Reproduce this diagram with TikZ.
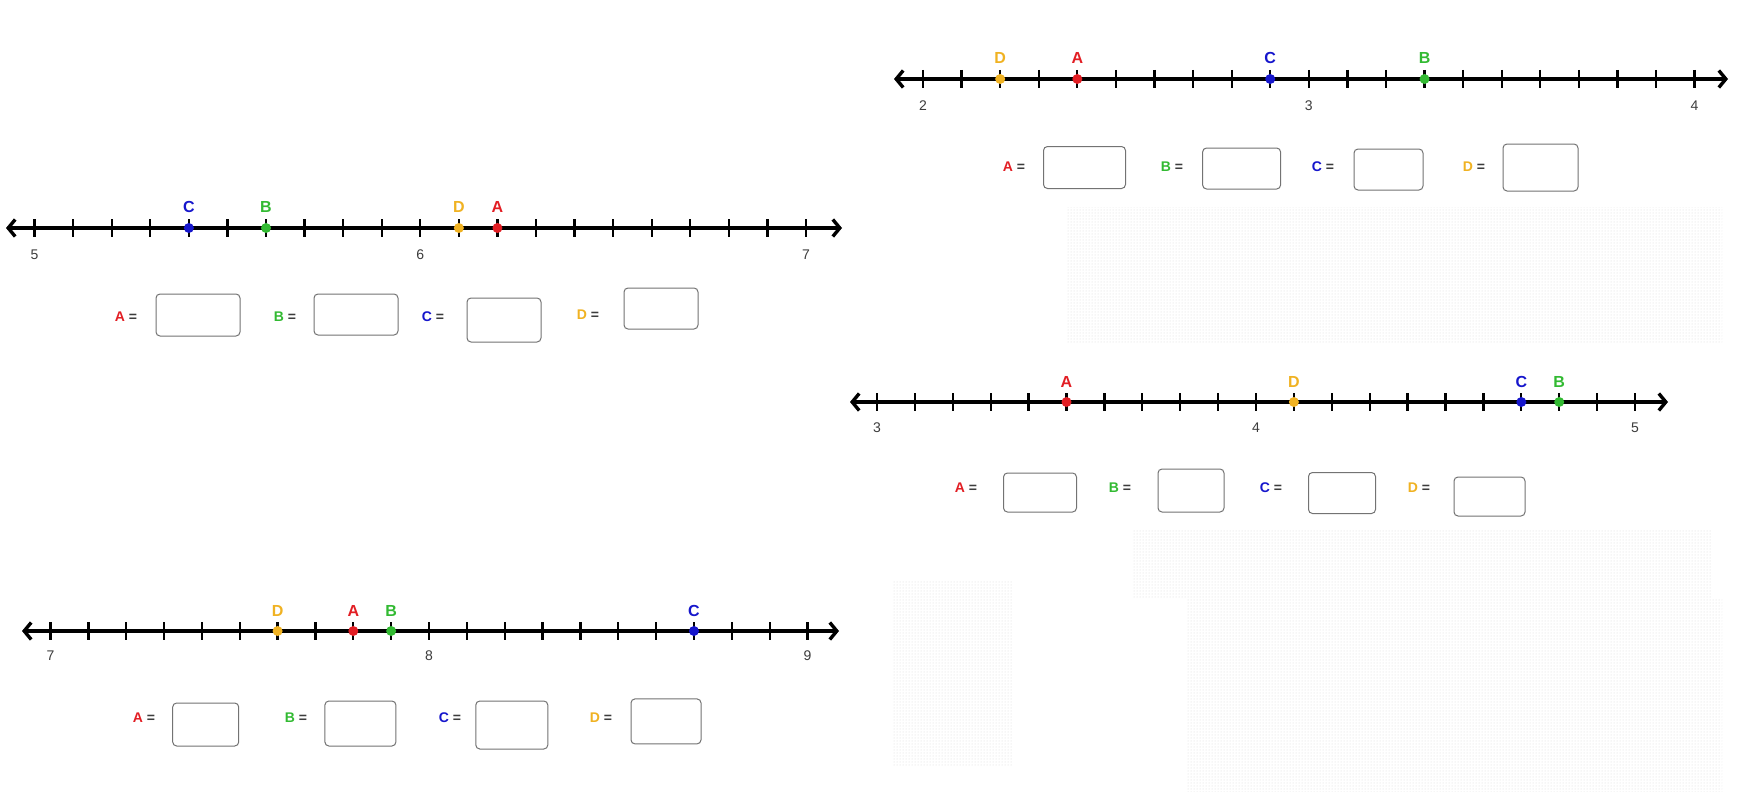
\documentclass[tikz,border=0pt]{standalone}
\usepackage{fontspec}
\setmainfont{Liberation Sans}
\usetikzlibrary{positioning,arrows.meta,patterns}

\definecolor{ptA}{RGB}{226,30,36}
\definecolor{ptB}{RGB}{50,186,50}
\definecolor{ptC}{RGB}{22,22,204}
\definecolor{ptD}{RGB}{240,178,34}
\definecolor{numgray}{RGB}{60,60,60}

\tikzset{
  axisline/.style={line width=3.4pt,{Straight Barb[length=7pt,width=17pt]}-{Straight Barb[length=7pt,width=17pt]}},
  tickmark/.style={line width=2.3pt},
  ansbox/.style={draw=black!55,line width=1pt,rounded corners=4pt,fill=white,inner sep=0pt},
  ptlabel/.style={font=\fontsize{16}{18}\selectfont\bfseries},
  numlabel/.style={font=\fontsize{14}{16}\selectfont,text=numgray},
  eqlabel/.style={font=\fontsize{14}{16}\selectfont\bfseries},
  dotpatch/.style={pattern=dots,pattern color=black!15}
}

\begin{document}
\begin{tikzpicture}[x=1pt,y=-1pt]
\useasboundingbox (0,0) rectangle (1743,792);
\fill[white] (0,0) rectangle (1743,792);
% ---- faint dotted patches (behind everything) ----
\fill[dotpatch] (1067,207) rectangle (1722,343);
\fill[dotpatch] (1133,530) rectangle (1711,598);
\fill[dotpatch] (1186,598) rectangle (1722,792);
\fill[dotpatch] (892,580) rectangle (1012,765);
% ---- number line 5 .. 7 ----
\draw[axisline] (6,228) -- (842,228);
\foreach \i in {0,...,20} {\draw[tickmark] ({34.6+38.57*\i},219) -- ({34.6+38.57*\i},237);}
\foreach \v/\i in {5/0,6/10,7/20} {\node[numlabel] (na\v) at ({34.6+38.57*\i},255) {\v};}
\foreach \k/\lab/\col in {4/C/ptC,6/B/ptB,11/D/ptD,12/A/ptA} {
  \fill[\col] ({34.6+38.57*\k},228) circle (5pt);
  \node[ptlabel,text=\col] (la\lab) at ({34.6+38.57*\k},207) {\lab};}
\node[ansbox,minimum width=84pt,minimum height=42pt] (ba-A) at (198,315) {};
\node[ansbox,minimum width=84pt,minimum height=41pt] (ba-B) at (356,314.5) {};
\node[ansbox,minimum width=74pt,minimum height=44pt] (ba-C) at (504,320) {};
\node[ansbox,minimum width=74pt,minimum height=41pt] (ba-D) at (661,308.5) {};
\node[eqlabel] (ea-A) at (126,317) {\textcolor{ptA}{A} \textcolor{numgray}{=}};
\node[eqlabel] (ea-B) at (285,317) {\textcolor{ptB}{B} \textcolor{numgray}{=}};
\node[eqlabel] (ea-C) at (433,317) {\textcolor{ptC}{C} \textcolor{numgray}{=}};
\node[eqlabel] (ea-D) at (588,315) {\textcolor{ptD}{D} \textcolor{numgray}{=}};
% ---- number line 2 .. 4 ----
\draw[axisline] (894,79) -- (1728,79);
\foreach \i in {0,...,20} {\draw[tickmark] ({923+38.58*\i},70) -- ({923+38.58*\i},88);}
\foreach \v/\i in {2/0,3/10,4/20} {\node[numlabel] (nb\v) at ({923+38.58*\i},106) {\v};}
\foreach \k/\lab/\col in {2/D/ptD,4/A/ptA,9/C/ptC,13/B/ptB} {
  \fill[\col] ({923+38.58*\k},79) circle (5pt);
  \node[ptlabel,text=\col] (lb\lab) at ({923+38.58*\k},58) {\lab};}
\node[ansbox,minimum width=82pt,minimum height=42pt] (bb-A) at (1084.5,167.5) {};
\node[ansbox,minimum width=78pt,minimum height=41pt] (bb-B) at (1241.6,168.5) {};
\node[ansbox,minimum width=69pt,minimum height=41pt] (bb-C) at (1388.5,169.5) {};
\node[ansbox,minimum width=75pt,minimum height=47pt] (bb-D) at (1540.5,167.5) {};
\node[eqlabel] (eb-A) at (1014,167) {\textcolor{ptA}{A} \textcolor{numgray}{=}};
\node[eqlabel] (eb-B) at (1172,167) {\textcolor{ptB}{B} \textcolor{numgray}{=}};
\node[eqlabel] (eb-C) at (1323,167) {\textcolor{ptC}{C} \textcolor{numgray}{=}};
\node[eqlabel] (eb-D) at (1474,167) {\textcolor{ptD}{D} \textcolor{numgray}{=}};
% ---- number line 3 .. 5 ----
\draw[axisline] (850,402) -- (1668,402);
\foreach \i in {0,...,20} {\draw[tickmark] ({877+37.9*\i},393) -- ({877+37.9*\i},411);}
\foreach \v/\i in {3/0,4/10,5/20} {\node[numlabel] (nc\v) at ({877+37.9*\i},428) {\v};}
\foreach \k/\lab/\col in {5/A/ptA,11/D/ptD,17/C/ptC,18/B/ptB} {
  \fill[\col] ({877+37.9*\k},402) circle (5pt);
  \node[ptlabel,text=\col] (lc\lab) at ({877+37.9*\k},382) {\lab};}
\node[ansbox,minimum width=73pt,minimum height=39pt] (bc-A) at (1040,492.5) {};
\node[ansbox,minimum width=66pt,minimum height=43pt] (bc-B) at (1191,490.5) {};
\node[ansbox,minimum width=67pt,minimum height=41pt] (bc-C) at (1342,493) {};
\node[ansbox,minimum width=71pt,minimum height=39pt] (bc-D) at (1489.5,496.5) {};
\node[eqlabel] (ec-A) at (966,488) {\textcolor{ptA}{A} \textcolor{numgray}{=}};
\node[eqlabel] (ec-B) at (1120,488) {\textcolor{ptB}{B} \textcolor{numgray}{=}};
\node[eqlabel] (ec-C) at (1271,488) {\textcolor{ptC}{C} \textcolor{numgray}{=}};
\node[eqlabel] (ec-D) at (1419,488) {\textcolor{ptD}{D} \textcolor{numgray}{=}};
% ---- number line 7 .. 9 ----
\draw[axisline] (22,631) -- (839,631);
\foreach \i in {0,...,20} {\draw[tickmark] ({50.5+37.85*\i},622) -- ({50.5+37.85*\i},640);}
\foreach \v/\i in {7/0,8/10,9/20} {\node[numlabel] (nd\v) at ({50.5+37.85*\i},656) {\v};}
\foreach \k/\lab/\col in {6/D/ptD,8/A/ptA,9/B/ptB,17/C/ptC} {
  \fill[\col] ({50.5+37.85*\k},631) circle (5pt);
  \node[ptlabel,text=\col] (ld\lab) at ({50.5+37.85*\k},610.5) {\lab};}
\node[ansbox,minimum width=66pt,minimum height=43pt] (bd-A) at (205.7,724.5) {};
\node[ansbox,minimum width=71pt,minimum height=45pt] (bd-B) at (360.4,723.5) {};
\node[ansbox,minimum width=72pt,minimum height=48pt] (bd-C) at (511.8,725) {};
\node[ansbox,minimum width=70pt,minimum height=45pt] (bd-D) at (666,721.4) {};
\node[eqlabel] (ed-A) at (144,718) {\textcolor{ptA}{A} \textcolor{numgray}{=}};
\node[eqlabel] (ed-B) at (296,718) {\textcolor{ptB}{B} \textcolor{numgray}{=}};
\node[eqlabel] (ed-C) at (450,718) {\textcolor{ptC}{C} \textcolor{numgray}{=}};
\node[eqlabel] (ed-D) at (601,718) {\textcolor{ptD}{D} \textcolor{numgray}{=}};
\end{tikzpicture}
\end{document}
